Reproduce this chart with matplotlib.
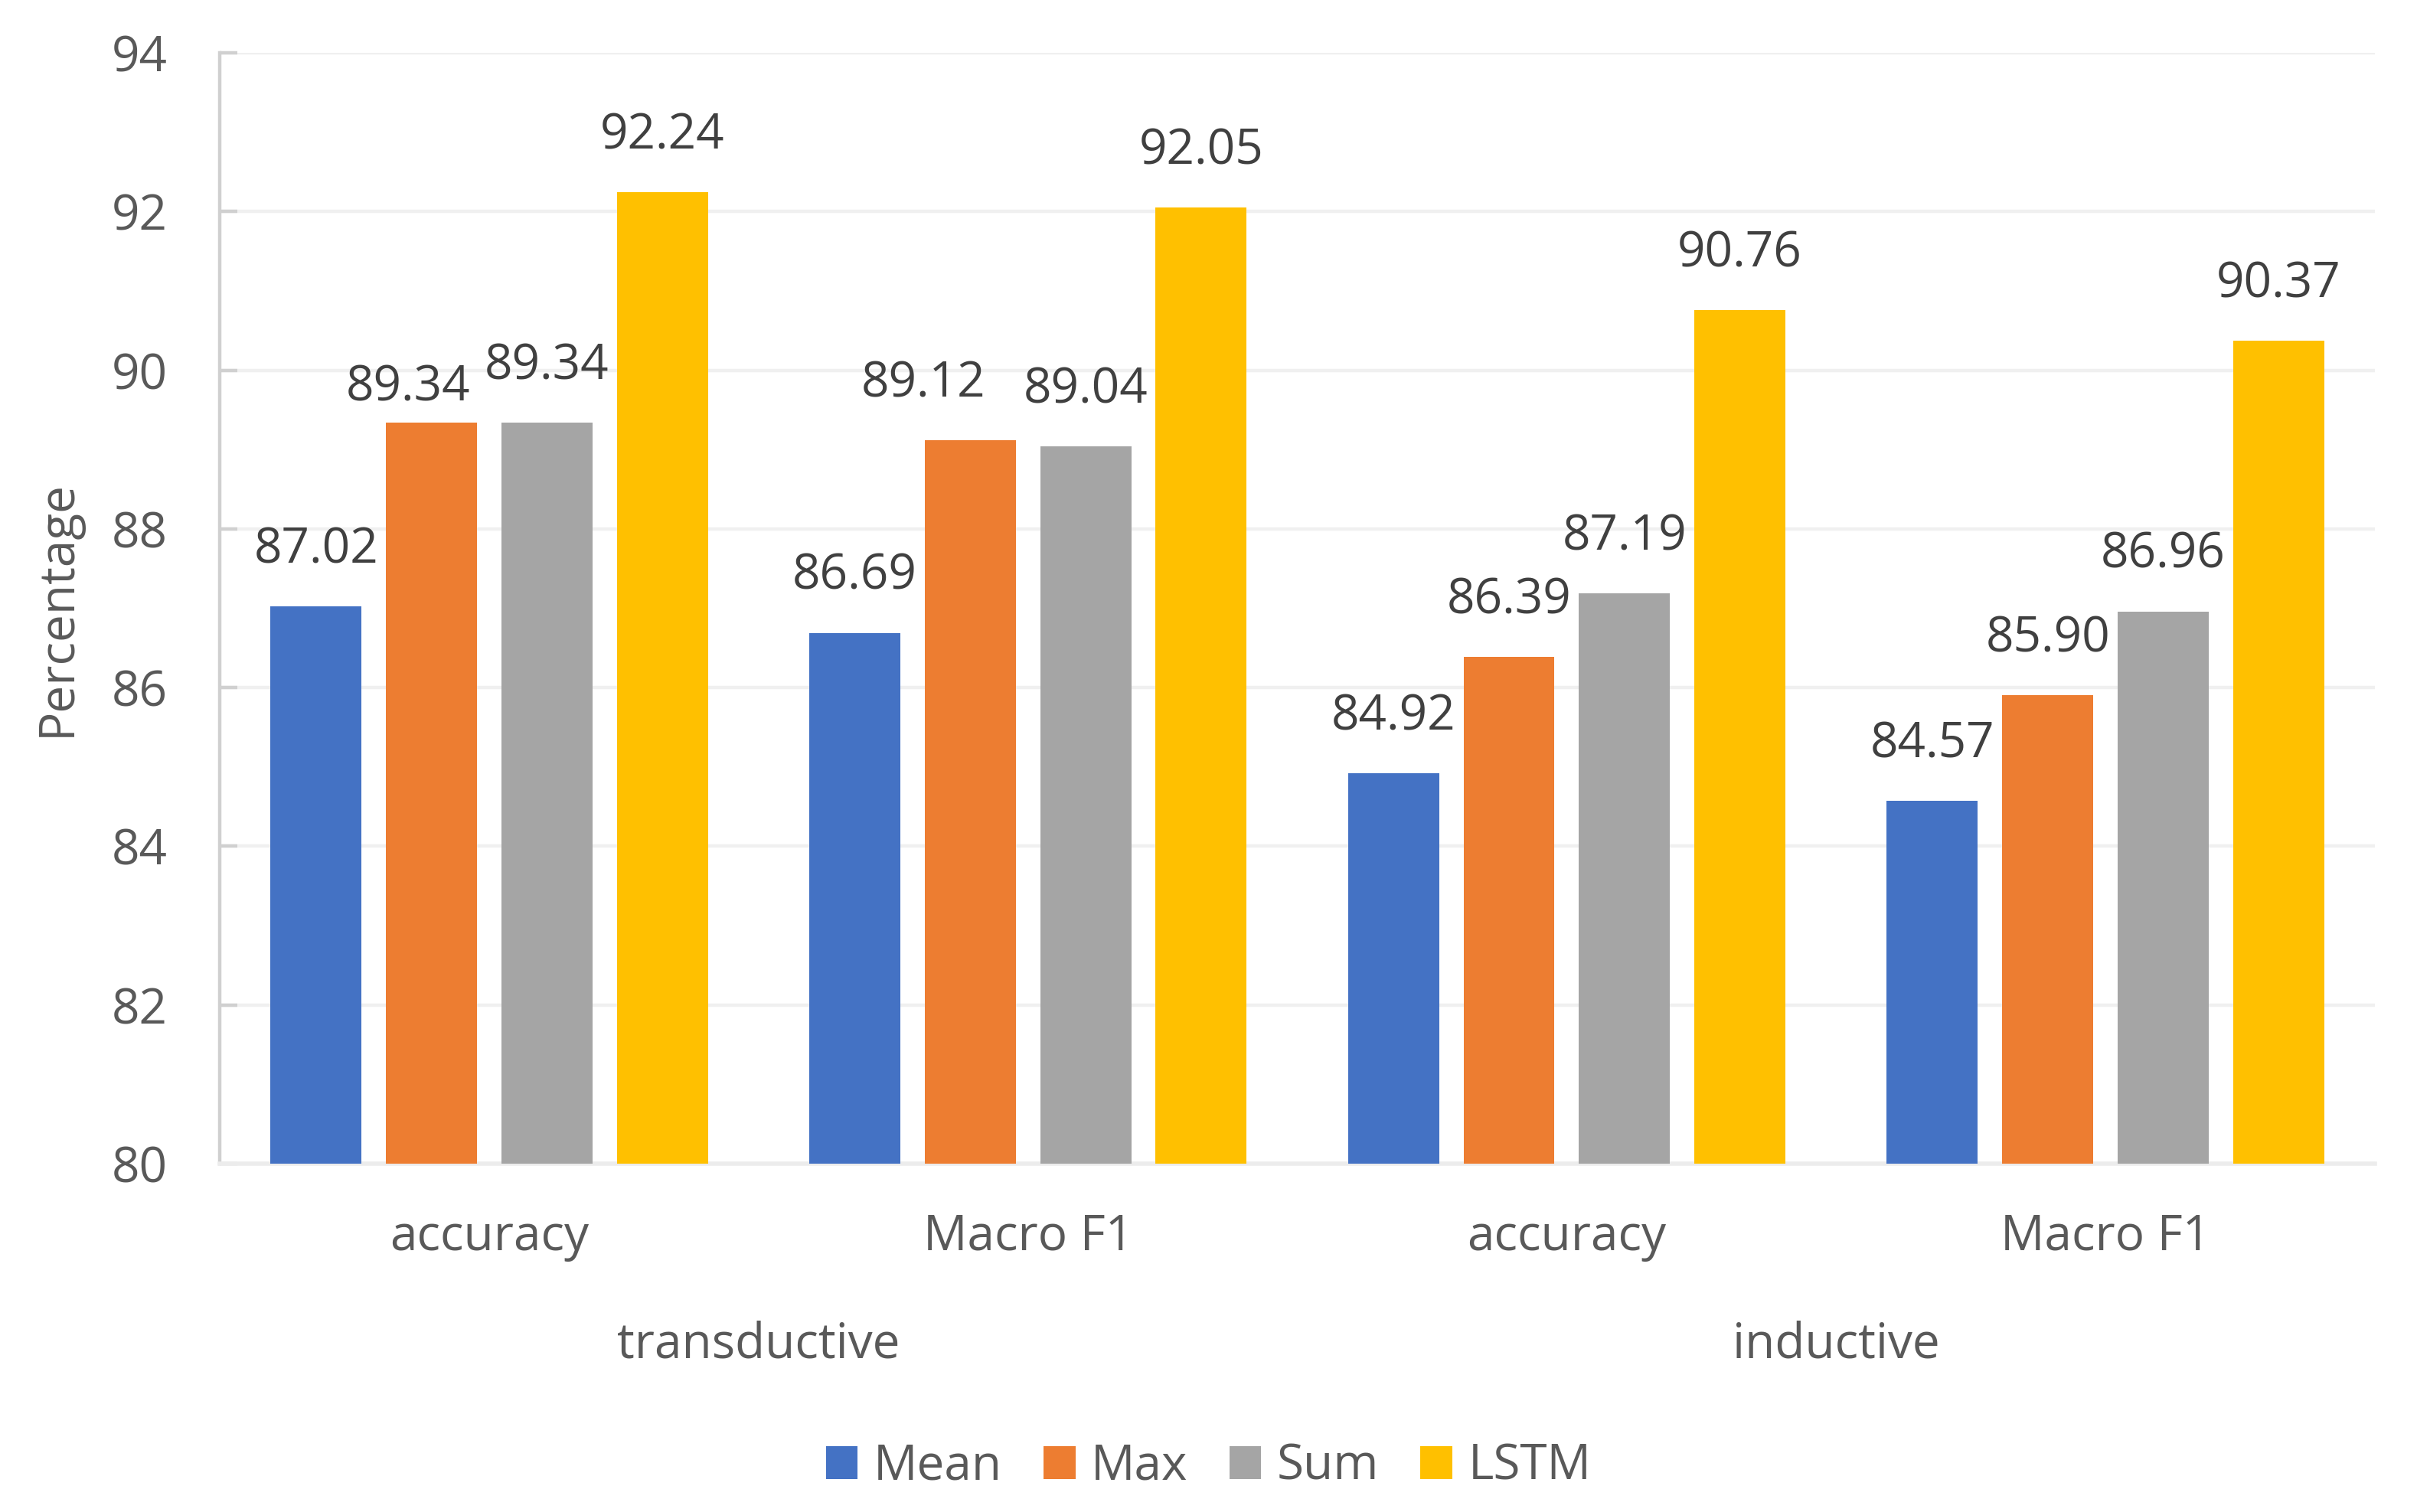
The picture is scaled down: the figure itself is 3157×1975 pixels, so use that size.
import numpy as np
import matplotlib
matplotlib.use('Agg')
from matplotlib import pyplot as plt

plt.rcParams['font.family'] = ['Open Sans', 'DejaVu Sans']

methods = ['Mean', 'Max', 'Sum', 'LSTM']
colors = ['#4472C4', '#ED7D31', '#A5A5A5', '#FFC000']
metrics = ['accuracy', 'Macro F1', 'accuracy', 'Macro F1']
settings = ['transductive', 'inductive']
mean_vals = [87.02, 86.69, 84.92, 84.57]
max_vals = [89.34, 89.12, 86.39, 85.90]
sum_vals = [89.34, 89.04, 87.19, 86.96]
lstm_vals = [92.24, 92.05, 90.76, 90.37]
yticks = [80, 82, 84, 86, 88, 90, 92, 94]

TXT = '#595959'
FS = 23

fig = plt.figure(figsize=(15.785, 9.875), dpi=200)
ax = fig.add_axes([0.0909, 0.2304, 0.8917, 0.7347])

x = np.arange(len(metrics))
pitch, width = 0.2143, 0.169
series = [mean_vals, max_vals, sum_vals, lstm_vals]
#Excel moved some labels to dodge neighbours (points)
nudge = {(1, 0): (-11, -10), (1, 1): (-22, 0)}
for i, (vals, c, name) in enumerate(zip(series, colors, methods)):
    xs = x + (i - 1.5) * pitch
    ax.bar(xs, [v - 80 for v in vals], width, bottom=80, color=c, label=name, zorder=3)
    for j, (xx, v) in enumerate(zip(xs, vals)):
        dx, dy = nudge.get((i, j), (0, 0))
        ax.annotate(f'{v:.2f}', (xx, v), xytext=(dx, 26.5 + dy), textcoords='offset points',
                    ha='center', va='center', fontsize=FS, color='#404040')

ax.set_xlim(-0.5, 3.5)
ax.set_ylim(80, 94)
ax.set_yticks(yticks)
ax.set_yticklabels([str(t) for t in yticks], fontsize=FS, color=TXT)
ax.grid(axis='y', color='#f0f0f0', lw=1.6, zorder=0)
ax.tick_params(axis='y', direction='in', length=8.3, width=1.6, color='#d0d0d0', pad=24.5)
ax.set_xticks(x)
ax.set_xticklabels(metrics, fontsize=FS, color=TXT)
ax.tick_params(axis='x', length=0, pad=23)
for s in ['top', 'right']:
    ax.spines[s].set_visible(False)
ax.spines['left'].set_color('#d0d0d0')
ax.spines['left'].set_linewidth(1.6)
ax.spines['bottom'].set_color('#ececec')
ax.spines['bottom'].set_linewidth(2)

for k, s in enumerate(settings):
    ax.text(2 * k + 0.5, -0.163, s, transform=ax.get_xaxis_transform(), ha='center', va='center',
            fontsize=FS, color=TXT)

ax.set_ylabel('Percentage', fontsize=FS, color=TXT, labelpad=14)

fig.legend(loc='center', bbox_to_anchor=(0.5, 0.03), ncol=4, frameon=False, fontsize=FS,
           handlelength=0.65, handleheight=0.65, handletextpad=0.32, columnspacing=0.85,
           labelcolor=TXT)

fig.savefig('out.png')
